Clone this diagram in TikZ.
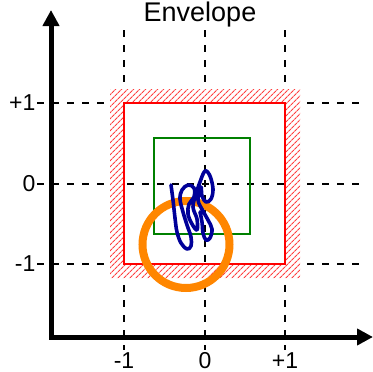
\documentclass[tikz,border=0pt]{standalone}
\usepackage{fontspec}
\setmainfont{Liberation Sans}
\usetikzlibrary{arrows.meta,patterns.meta}
\tikzset{
  gridline/.style={draw=black, line width=2pt, dash pattern=on 7pt off 8pt},
  ticklabel/.style={font=\fontsize{23}{23}\selectfont, inner sep=0pt},
  axisline/.style={line width=5pt, line join=miter},
  bandpat/.style={pattern={Lines[angle=45,distance=4pt,line width=1.1pt]}, pattern color=red!75, even odd rule},
  redsq/.style={draw=red, line width=2.5pt},
  greensq/.style={draw=green!50!black, line width=2.5pt},
  orangering/.style={draw=orange!95!yellow, line width=8pt},
  scribble/.style={draw=blue!60!black, line width=3.6pt, line join=round, line cap=round}
}
\begin{document}
\begin{tikzpicture}[x=1pt,y=-1pt]
\useasboundingbox (0,0) rectangle (373,372);
% dashed grid
\foreach \gx in {124,205,285} {\draw[gridline] (\gx,30) -- (\gx,350);}
\foreach \gy in {103,184,264} {\draw[gridline] (37,\gy) -- (360,\gy);}
% hatched envelope band
\path[fill=white, even odd rule] (110,89) rectangle (300,278) (124,103) rectangle (285,264);
\path[bandpat] (110,89) rectangle (300,278) (124,103) rectangle (285,264);
% red square
\node[redsq, minimum width=161pt, minimum height=161pt, inner sep=0pt] (red) at (204.5,183.5) {};
% green square
\node[greensq, minimum width=96pt, minimum height=96pt, inner sep=0pt] (green) at (202,186) {};
% orange ring
\node[orangering, circle, minimum size=87pt, inner sep=0pt] (ring) at (186,244.5) {};
% blue scribble
\draw[scribble] plot[smooth, tension=0.6] coordinates {
 (171,185) (173,200) (175,218) (177,232) (181,243) (187,249) (191,246) (191,237)
 (187,225) (183,212) (180,199) (182,190) (188,185) (194,188) (194,197) (189,204)
 (188,214) (192,224) (197,230) (197,219) (193,207) (196,194) (200,182) (205,171)
 (210,176) (213,189) (211,199) (206,202) (202,196) (201,187) (198,200) (203,211)
 (208,220) (212,229) (210,238) (206,240) (203,233) (202,222) (200,212)};
% axes
\coordinate (ytop) at (51,10);
\coordinate (origin) at (51,337);
\coordinate (xend) at (373,337);
\draw[axisline, {Triangle[length=16pt,width=16pt]}-{Triangle[length=16pt,width=16pt]}] (ytop) -- (origin) -- (xend);
% labels
\node[ticklabel, anchor=east] (lyp) at (35.5,103) {+1};
\node[ticklabel, anchor=east] (ly0) at (35.5,184) {0};
\node[ticklabel, anchor=east] (lym) at (35.5,264) {-1};
\node[ticklabel, anchor=base] (lxm) at (124,368) {-1};
\node[ticklabel, anchor=base] (lx0) at (205,368) {0};
\node[ticklabel, anchor=base] (lxp) at (285,368) {+1};
\node[font=\fontsize{27}{27}\selectfont, inner sep=0pt, anchor=base] (title) at (200,21) {Envelope};
\end{tikzpicture}
\end{document}
